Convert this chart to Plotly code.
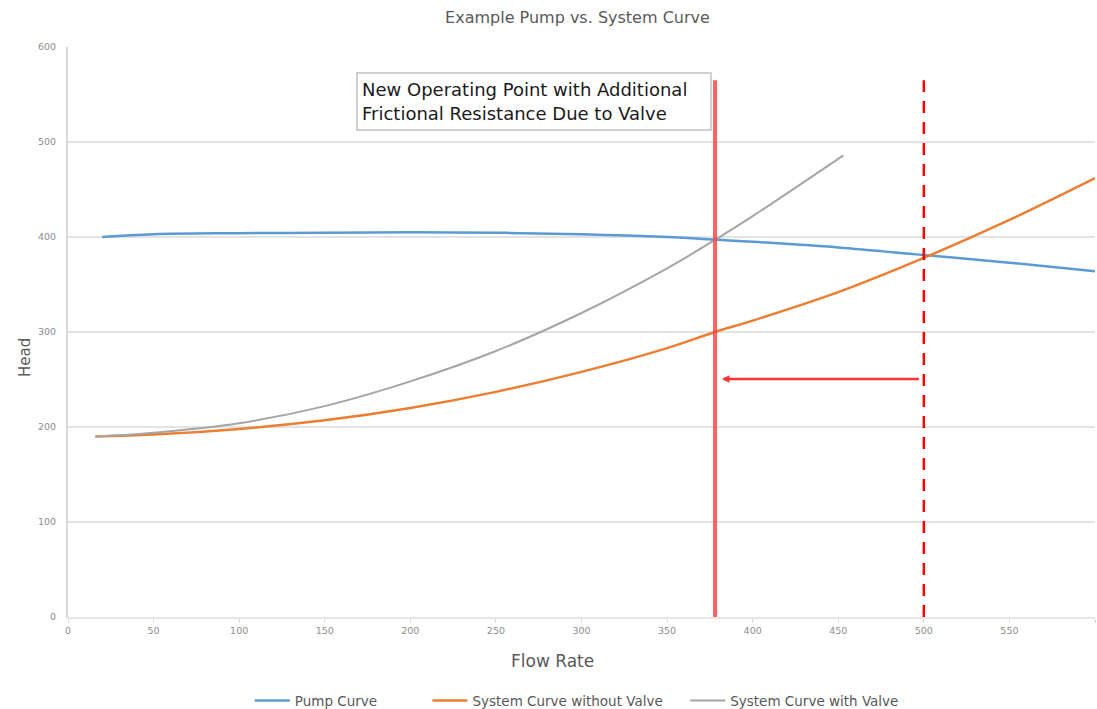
import plotly.graph_objects as go

# ---- data ----
pump_x = [20, 50, 100, 150, 200, 250, 300, 350, 380, 400, 450, 500, 550, 600]
pump_y = [400, 403, 404, 404.5, 405, 404.5, 403, 400, 397, 395, 389, 381, 373, 364]

sys_no_valve_x = [16, 50, 100, 150, 200, 250, 300, 350, 378, 400, 450, 500, 550, 600]
sys_no_valve_y = [190, 192, 198, 207, 220, 237, 258, 283, 300, 312, 342, 378, 418, 462]

sys_valve_x = [16, 50, 100, 150, 200, 250, 300, 350, 378, 400, 453]
sys_valve_y = [190, 194, 204, 222, 248, 280, 320, 367, 397, 422, 486]

new_op_flow = 378
old_op_flow = 500
marker_top = 565
arrow_head = 250.5
arrow_from = 498
arrow_to = 382

x_ticks = list(range(0, 601, 50))
y_ticks = list(range(0, 601, 100))

title_text = "Example Pump vs. System Curve"
note_text = "New Operating Point with Additional<br>Frictional Resistance Due to Valve"

GRAY_TXT = "#595959"
FONT = "DejaVu Sans"

fig = go.Figure()
fig.add_trace(go.Scatter(x=pump_x, y=pump_y, mode="lines", name="Pump Curve",
                         legend="legend",
                         line=dict(color="#5B9BD5", width=2.5, shape="spline")))
fig.add_trace(go.Scatter(x=sys_no_valve_x, y=sys_no_valve_y, mode="lines",
                         name="System Curve without Valve", legend="legend2",
                         line=dict(color="#ED7D31", width=2.5, shape="spline")))
fig.add_trace(go.Scatter(x=sys_valve_x, y=sys_valve_y, mode="lines",
                         name="System Curve with Valve", legend="legend3",
                         line=dict(color="#A5A5A5", width=2, shape="spline")))

# vertical markers
fig.add_shape(type="line", x0=new_op_flow, x1=new_op_flow, y0=0, y1=marker_top,
              xref="x", yref="y", line=dict(color="rgba(255,60,60,0.8)", width=4))
fig.add_shape(type="line", x0=old_op_flow, x1=old_op_flow, y0=0, y1=marker_top,
              xref="x", yref="y", line=dict(color="#FF0000", width=2.5, dash="12px,9px"))

# horizontal arrow
fig.add_annotation(x=arrow_to, y=arrow_head, ax=arrow_from, ay=arrow_head,
                   xref="x", yref="y", axref="x", ayref="y", text="",
                   showarrow=True, arrowhead=2, arrowsize=0.6, arrowwidth=2.5,
                   arrowcolor="#FF3333")

# text box
fig.add_annotation(x=272, y=542.6, xref="x", yref="y", text=note_text,
                   showarrow=False, align="left", width=344, height=47,
                   font=dict(family="DejaVu Sans", size=18, color="#1a1a1a"),
                   bgcolor="white", bordercolor="#D0D0D0", borderwidth=2, borderpad=4)

# axis titles
fig.add_annotation(x=0.472, y=-0.077, xref="paper", yref="paper", text="Flow Rate",
                   showarrow=False, font=dict(family=FONT, size=17, color=GRAY_TXT),
                   xanchor="center", yanchor="middle")
fig.add_annotation(x=-0.042, y=0.456, xref="paper", yref="paper", text="Head",
                   showarrow=False, textangle=-90,
                   font=dict(family=FONT, size=15, color=GRAY_TXT),
                   xanchor="center", yanchor="middle")

leg_common = dict(orientation="h", xanchor="left", y=-0.147, yanchor="middle",
                  font=dict(family=FONT, size=13.5, color=GRAY_TXT), itemwidth=35,
                  bgcolor="rgba(0,0,0,0)")

fig.update_layout(
    width=1097, height=709,
    paper_bgcolor="white", plot_bgcolor="white",
    margin=dict(l=68, r=2, t=47, b=92, autoexpand=False),
    title=dict(text=title_text, x=0.5264, xanchor="center", y=0.976, yanchor="middle",
               yref="container", font=dict(family=FONT, size=16, color=GRAY_TXT)),
    font=dict(family=FONT, color=GRAY_TXT),
    showlegend=True,
    legend=dict(x=0.177, **leg_common),
    legend2=dict(x=0.350, **leg_common),
    legend3=dict(x=0.601, **leg_common),
    xaxis=dict(range=[0, 600], tickvals=x_ticks, ticktext=[str(v) for v in x_ticks],
               showgrid=False, zeroline=False, showline=True, linecolor="#E6E6E6",
               linewidth=2, ticks="outside", ticklen=4, tickcolor="#D9D9D9",
               automargin=False,
               tickfont=dict(family=FONT, size=9.5, color="#8C8C8C"), fixedrange=True),
    yaxis=dict(range=[0, 600], tickvals=y_ticks, ticktext=[str(v) for v in y_ticks],
               showgrid=True, gridcolor="#E3E3E3", gridwidth=1.5, zeroline=False,
               showline=True, linecolor="#D9D9D9", linewidth=2, ticks="",
               ticklabelstandoff=8, automargin=False,
               tickfont=dict(family=FONT, size=9.5, color="#8C8C8C"), fixedrange=True),
)

fig.write_html("out.html", config={"displayModeBar": False},
               post_script="document.body.style.margin='0';"
                           "document.body.style.overflow='hidden';")
